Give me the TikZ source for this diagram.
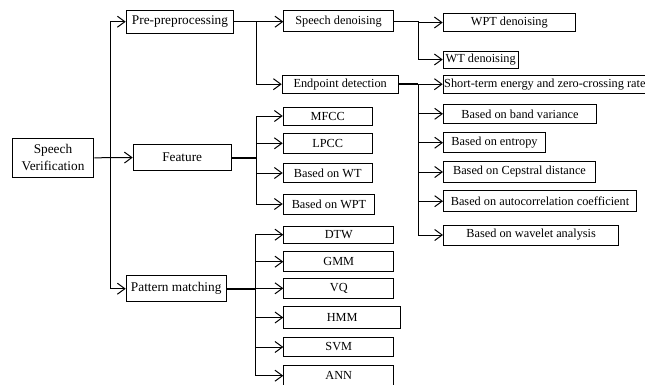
\documentclass[tikz,border=0pt]{standalone}
\usepackage{fontspec}
\setmainfont{Liberation Serif}
\usetikzlibrary{arrows.meta}
\begin{document}
\begin{tikzpicture}[x=1pt,y=-1pt,
  box/.style={draw, line width=1pt, inner sep=0pt, anchor=west, align=center, font=\fontsize{12.3}{14}\selectfont},
  bigbox/.style={box, font=\fontsize{13.3}{17}\selectfont},
  arr/.style={line width=1pt, -{Straight Barb[length=7.5pt,width=11pt,line width=1pt]}},
  ln/.style={line width=1pt},
  thk/.style={line width=2pt}]
\useasboundingbox (0,0) rectangle (645,384);
\clip (0,0) rectangle (645,384);
% nodes
\node[bigbox, minimum width=81.6pt, minimum height=39pt] (sv) at (11.7,157.8) {Speech\\Verification};
\node[bigbox, minimum width=107.6pt, minimum height=23.3pt] (pre) at (125.7,21.7) {Pre-preprocessing};
\node[bigbox, minimum width=98pt, minimum height=26.4pt] (feat) at (132.7,157.5) {Feature};
\node[bigbox, minimum width=100pt, minimum height=26pt] (pm) at (125.7,288.7) {Pattern matching};
\node[box, minimum width=109.4pt, minimum height=21pt] (sd) at (283.3,21.2) {Speech denoising};
\node[box, minimum width=116pt, minimum height=18.3pt] (ed) at (281.7,84.2) {Endpoint detection};
\node[box, minimum width=132.3pt, minimum height=18.4pt] (wpt) at (442.7,22.5) {WPT denoising};
\node[box, minimum width=75pt, minimum height=17pt] (wt) at (442.7,59.5) {WT denoising};
\node[box, inner xsep=1pt, minimum height=17.6pt] (ste) at (442.7,84.5) {Short-term energy and zero-crossing rate};
\node[box, minimum width=153pt, minimum height=19pt] (bv) at (443,113.8) {Based on band variance};
\node[box, minimum width=102pt, minimum height=20pt] (ent) at (443,142.7) {Based on entropy};
\node[box, minimum width=152pt, minimum height=21pt] (cep) at (443,172) {Based on Cepstral distance};
\node[box, minimum width=193pt, minimum height=21pt] (ac) at (443,201.2) {Based on autocorrelation coefficient};
\node[box, minimum width=175.3pt, minimum height=20pt] (wa) at (443,235) {Based on wavelet analysis};
\node[box, minimum width=89pt, minimum height=18pt] (mfcc) at (282.7,116) {MFCC};
\node[box, minimum width=89pt, minimum height=20pt] (lpcc) at (282.7,143.3) {LPCC};
\node[box, minimum width=89pt, minimum height=19.4pt] (bwt) at (282.7,173) {Based on WT};
\node[box, minimum width=91.6pt, minimum height=20pt] (bwpt) at (282.7,204) {Based on WPT};
\node[box, minimum width=110pt, minimum height=17.3pt] (dtw) at (283.3,234.7) {DTW};
\node[box, minimum width=110pt, minimum height=20pt] (gmm) at (283.3,261.7) {GMM};
\node[box, minimum width=110pt, minimum height=20pt] (vq) at (283.3,288.3) {VQ};
\node[box, minimum width=116.7pt, minimum height=21.6pt] (hmm) at (283.3,317.5) {HMM};
\node[box, minimum width=110pt, minimum height=19.4pt] (svm) at (283.3,347) {SVM};
\node[box, minimum width=110pt, minimum height=20pt] (ann) at (283.3,375.7) {ANN};
% junction columns
\coordinate (j0) at (110,0);
\coordinate (j1) at (256.7,0);
\coordinate (j2) at (418.3,0);
\coordinate (jf) at (256,0);
\coordinate (jp) at (255,0);
% trunk
\draw[arr] (sv.east) -- (feat.west);
\draw[arr] (j0 |- sv.east) |- (pre.west);
\draw[arr] (j0 |- sv.east) |- (pm.west);
% pre-processing
\draw[arr] (pre.east) -- (pre.east -| sd.west);
\draw[arr] (j1 |- pre.east) |- (ed.west);
% speech denoising
\draw[ln] (sd.east) -- (j2 |- sd.east);
\draw[arr] (j2 |- sd.east) |- (wpt.west);
\draw[arr] (j2 |- sd.east) |- (wt.west);
% endpoint detection
\draw[thk] (ed.east) -- (j2 |- ed.east);
\draw[line width=1.6pt] (j2 |- ed.east) -- (j2 |- wa.west);
\draw[arr] (j2 |- ed.east) -- (ed.east -| ste.west);
\foreach \n in {bv,ent,cep,ac,wa} \draw[arr] (j2 |- ed.east) |- (\n.west);
% feature
\draw[thk] (feat.east) -- (jf |- feat.east);
\draw[ln] (jf |- mfcc.west) -- (jf |- bwpt.west);
\foreach \n in {mfcc,lpcc,bwt,bwpt} \draw[arr] (jf |- \n.west) -- (\n.west);
% pattern matching
\draw[thk] (pm.east) -- (jp |- pm.east);
\draw[ln] (jp |- dtw.west) -- (jp |- ann.west);
\foreach \n in {dtw,gmm,vq,hmm,svm,ann} \draw[arr] (jp |- \n.west) -- (\n.west);
\end{tikzpicture}
\end{document}
